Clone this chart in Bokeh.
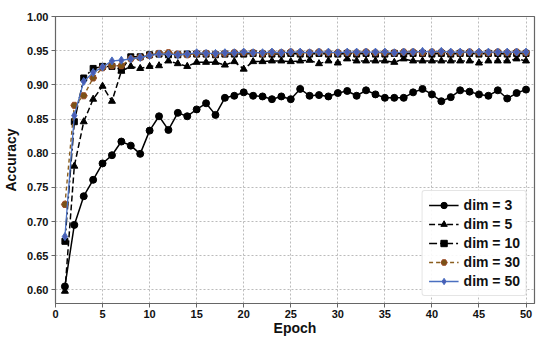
from bokeh.plotting import figure
from bokeh.models import Legend, LegendItem, FixedTicker, NumeralTickFormatter, Range1d
from bokeh.embed import file_html
from bokeh.resources import INLINE

epochs = list(range(1, 51))

dim3 = [0.605, 0.695, 0.737, 0.761, 0.785, 0.797, 0.817, 0.811, 0.799, 0.833,
        0.854, 0.834, 0.859, 0.854, 0.864, 0.873, 0.856, 0.881, 0.884, 0.889,
        0.884, 0.883, 0.879, 0.883, 0.879, 0.894, 0.884, 0.885, 0.883, 0.888,
        0.891, 0.884, 0.892, 0.886, 0.881, 0.881, 0.881, 0.889, 0.894, 0.886,
        0.876, 0.882, 0.892, 0.890, 0.886, 0.884, 0.892, 0.880, 0.888, 0.893]
dim5 = [0.598, 0.781, 0.846, 0.879, 0.898, 0.876, 0.920, 0.927, 0.924, 0.927,
        0.928, 0.935, 0.931, 0.927, 0.933, 0.933, 0.933, 0.929, 0.934, 0.923,
        0.934, 0.934, 0.935, 0.935, 0.934, 0.935, 0.936, 0.931, 0.935, 0.932,
        0.938, 0.935, 0.935, 0.935, 0.935, 0.933, 0.938, 0.935, 0.935, 0.935,
        0.935, 0.935, 0.935, 0.935, 0.932, 0.935, 0.935, 0.935, 0.938, 0.935]
dim10 = [0.671, 0.846, 0.910, 0.924, 0.927, 0.927, 0.922, 0.941, 0.941, 0.944,
         0.945, 0.944, 0.944, 0.945, 0.945, 0.945, 0.944, 0.945, 0.945, 0.945,
         0.946, 0.945, 0.945, 0.945, 0.946, 0.945, 0.945, 0.946, 0.945, 0.945,
         0.946, 0.945, 0.946, 0.945, 0.945, 0.946, 0.945, 0.946, 0.946, 0.945,
         0.946, 0.945, 0.946, 0.946, 0.945, 0.946, 0.946, 0.945, 0.946, 0.946]
dim30 = [0.725, 0.870, 0.884, 0.910, 0.925, 0.928, 0.928, 0.938, 0.940, 0.943,
         0.946, 0.947, 0.945, 0.944, 0.946, 0.946, 0.945, 0.946, 0.947, 0.947,
         0.947, 0.946, 0.947, 0.947, 0.948, 0.947, 0.947, 0.948, 0.947, 0.947,
         0.947, 0.947, 0.948, 0.947, 0.947, 0.947, 0.948, 0.948, 0.947, 0.948,
         0.948, 0.947, 0.947, 0.948, 0.947, 0.947, 0.948, 0.947, 0.948, 0.947]
dim50 = [0.678, 0.855, 0.905, 0.918, 0.926, 0.935, 0.936, 0.938, 0.940, 0.943,
         0.945, 0.945, 0.944, 0.945, 0.947, 0.946, 0.946, 0.947, 0.947, 0.948,
         0.947, 0.947, 0.948, 0.947, 0.948, 0.948, 0.947, 0.948, 0.948, 0.947,
         0.948, 0.948, 0.948, 0.948, 0.948, 0.947, 0.948, 0.948, 0.949, 0.948,
         0.949, 0.948, 0.948, 0.948, 0.948, 0.948, 0.948, 0.948, 0.948, 0.948]

labels = ["dim = 3", "dim = 5", "dim = 10", "dim = 30", "dim = 50"]
x_ticks = [0, 5, 10, 15, 20, 25, 30, 35, 40, 45, 50]
y_ticks = [0.60, 0.65, 0.70, 0.75, 0.80, 0.85, 0.90, 0.95, 1.00]
x_title = "Epoch"
y_title = "Accuracy"

FONT = "Liberation Sans"
X0, X1, Y0, Y1 = 0, 50.9, 0.58, 1.0

p = figure(width=542, height=338, output_backend="svg", toolbar_location=None,
           x_range=Range1d(X0, X1), y_range=Range1d(Y0, Y1),
           min_border_top=16, min_border_right=8, min_border_left=52, min_border_bottom=0)

p.outline_line_color = "#666666"
p.outline_line_width = 1.2

for ax in (p.xaxis[0], p.yaxis[0]):
    ax.axis_line_color = "#666666"
    ax.major_tick_line_color = "#666666"
    ax.major_tick_out = 4
    ax.major_tick_in = 0
    ax.minor_tick_line_color = None
    ax.major_label_text_font = FONT
    ax.major_label_text_font_style = "bold"
    ax.major_label_text_font_size = "11px"
    ax.major_label_text_color = "#111111"
    ax.axis_label_text_font = FONT
    ax.axis_label_text_font_style = "bold"
    ax.axis_label_text_font_size = "14px"
    ax.axis_label_text_color = "#111111"

p.xaxis.major_label_standoff = 2
p.xaxis.axis_label_standoff = -1
p.yaxis.major_label_standoff = 3
p.yaxis.axis_label_standoff = 5
p.xaxis.axis_label = x_title
p.yaxis.axis_label = y_title

p.xaxis.ticker = FixedTicker(ticks=x_ticks)
p.yaxis.ticker = FixedTicker(ticks=y_ticks)
p.yaxis.formatter = NumeralTickFormatter(format="0.00")

p.xgrid.ticker = FixedTicker(ticks=x_ticks)
p.ygrid.ticker = FixedTicker(ticks=y_ticks)
for g in (p.xgrid[0], p.ygrid[0]):
    g.grid_line_color = "#bbbbbb"
    g.grid_line_dash = "2 2"
    g.grid_line_width = 1

items = []

l = p.line(epochs, dim3, line_color="black", line_width=1.5)
m = p.scatter(epochs, dim3, marker="circle", size=7, fill_color="black", line_color="black")
items.append(LegendItem(label=labels[0], renderers=[l, m]))

l = p.line(epochs, dim5, line_color="black", line_width=1.5, line_dash="6 3")
m = p.scatter(epochs, dim5, marker="triangle", size=7, fill_color="black", line_color="black")
items.append(LegendItem(label=labels[1], renderers=[l, m]))

l = p.line(epochs, dim10, line_color="black", line_width=1.5, line_dash="8 3 2 3")
m = p.scatter(epochs, dim10, marker="square", size=6, fill_color="black", line_color="black")
items.append(LegendItem(label=labels[2], renderers=[l, m]))

l = p.line(epochs, dim30, line_color="#8a5e1e", line_width=1.4, line_dash="4 3")
m = p.scatter(epochs, dim30, marker="hex", size=7, fill_color="#7a5216", line_color="#9a4a26")
items.append(LegendItem(label=labels[3], renderers=[l, m]))

l = p.line(epochs, dim50, line_color="#4a6fc0", line_width=1.3)
m = p.scatter(epochs, dim50, marker="diamond", size=8, fill_color="#4a5cb4", line_color="#4a6fc0")
items.append(LegendItem(label=labels[4], renderers=[l, m]))

legend = Legend(items=items, location="bottom_right")
legend.label_text_font = FONT
legend.label_text_font_style = "bold"
legend.label_text_font_size = "14px"
legend.label_text_color = "#111111"
legend.glyph_width = 30
legend.glyph_height = 16
legend.label_height = 16
legend.spacing = 3
legend.padding = 6
legend.margin = 7
legend.border_line_color = "#cccccc"
legend.border_radius = 3
legend.background_fill_alpha = 0.9
p.add_layout(legend)

open("out.html", "w").write(file_html(p, INLINE))
